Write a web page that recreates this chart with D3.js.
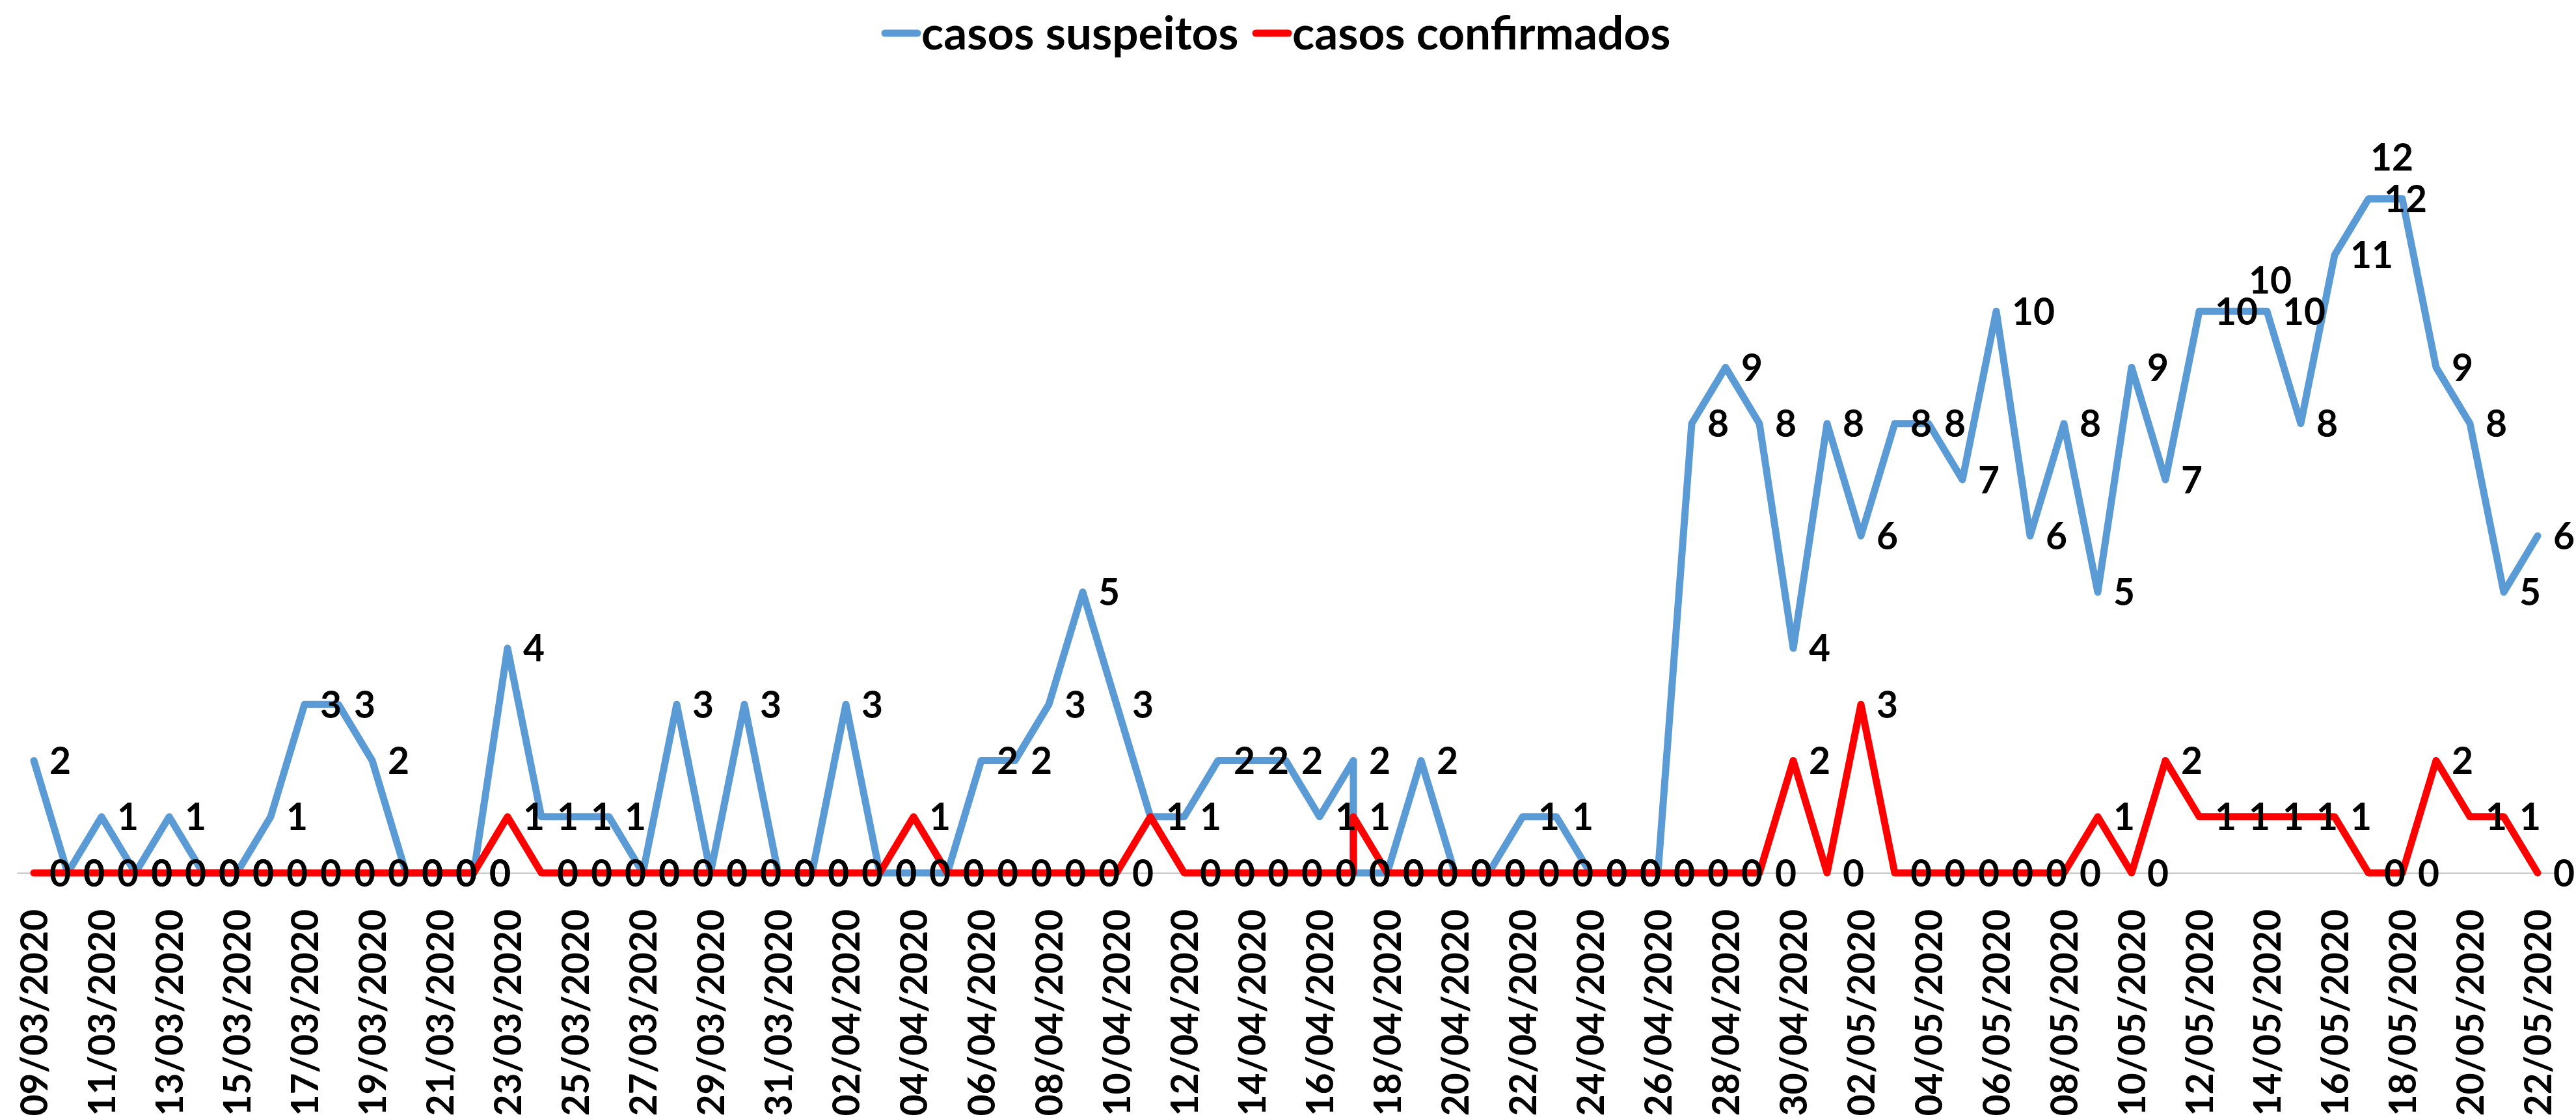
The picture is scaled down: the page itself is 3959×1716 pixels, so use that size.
<!DOCTYPE html>
<html>
<head>
<meta charset="utf-8">
<script src="https://cdn.jsdelivr.net/npm/d3@7"></script>
<style>
  body { margin: 0; background: #fff; }
  svg { display: block; }
  text { font-family: Lato, "Open Sans", sans-serif; font-weight: bold; fill: #000; }
</style>
</head>
<body>
<script>
// one row per reported day (17/04 was reported twice)
const dates = [
  "09/03/2020","10/03/2020","11/03/2020","12/03/2020","13/03/2020","14/03/2020","15/03/2020",
  "16/03/2020","17/03/2020","18/03/2020","19/03/2020","20/03/2020","21/03/2020","22/03/2020",
  "23/03/2020","24/03/2020","25/03/2020","26/03/2020","27/03/2020","28/03/2020","29/03/2020",
  "30/03/2020","31/03/2020","01/04/2020","02/04/2020","03/04/2020","04/04/2020","05/04/2020",
  "06/04/2020","07/04/2020","08/04/2020","09/04/2020","10/04/2020","11/04/2020","12/04/2020",
  "13/04/2020","14/04/2020","15/04/2020","16/04/2020","17/04/2020","17/04/2020","18/04/2020",
  "19/04/2020","20/04/2020","21/04/2020","22/04/2020","23/04/2020","24/04/2020","25/04/2020",
  "26/04/2020","27/04/2020","28/04/2020","29/04/2020","30/04/2020","01/05/2020","02/05/2020",
  "03/05/2020","04/05/2020","05/05/2020","06/05/2020","07/05/2020","08/05/2020","09/05/2020",
  "10/05/2020","11/05/2020","12/05/2020","13/05/2020","14/05/2020","15/05/2020","16/05/2020",
  "17/05/2020","18/05/2020","19/05/2020","20/05/2020","21/05/2020","22/05/2020"
];

const suspeitos = [
  2,0,1,0,1,0,0,
  1,3,3,2,0,0,0,
  4,1,1,1,0,3,0,
  3,0,0,3,0,0,0,
  2,2,3,5,3,1,1,
  2,2,2,1,2,0,0,
  2,0,0,1,1,0,0,
  0,8,9,8,4,8,6,
  8,8,7,10,6,8,5,
  9,7,10,10,10,8,11,
  12,12,9,8,5,6
];

const confirmados = [
  0,0,0,0,0,0,0,
  0,0,0,0,0,0,0,
  1,0,0,0,0,0,0,
  0,0,0,0,0,1,0,
  0,0,0,0,0,1,0,
  0,0,0,0,0,1,0,
  0,0,0,0,0,0,0,
  0,0,0,0,2,0,3,
  0,0,0,0,0,0,1,
  0,2,1,1,1,1,1,
  0,0,2,1,1,0
];

const seriesNames = ["casos suspeitos", "casos confirmados"];
const seriesColors = ["#5B9BD5", "#FF0000"];

const w = 3959;
const h = 1716;
const parse = d3.timeParse("%d/%m/%Y");
const fmt = d3.timeFormat("%d/%m/%Y");
const halfDay = 12 * 3600 * 1000;

const svg = d3.select("body")
  .append("svg")
  .attr("width", w)
  .attr("height", h);

const parsed = dates.map(parse);
const x = d3.scaleTime()
  .domain([new Date(+parsed[0] - halfDay), new Date(+parsed[parsed.length - 1] + halfDay)])
  .range([26, 3926]);

const y = d3.scaleLinear()
  .domain([0, 14])
  .range([1341, 133]);

// every second day gets a label
const uniqueDays = Array.from(new Set(dates));
const tickDays = uniqueDays.filter((d, i) => i % 2 === 0).map(parse);

const axis = svg.append("g")
  .attr("transform", `translate(0,${y(0)})`)
  .call(d3.axisBottom(x).tickValues(tickDays).tickFormat(fmt).tickSize(0).tickSizeOuter(0));

axis.select(".domain").attr("stroke", "#BFBFBF").attr("stroke-width", 2);
axis.selectAll(".tick text")
  .attr("transform", "rotate(-90)")
  .attr("x", -56)
  .attr("y", 0)
  .attr("dy", "0.36em")
  .style("text-anchor", "end")
  .style("font-size", "57px")
  .style("font-family", "Lato, sans-serif")
  .style("font-weight", "bold")
  .attr("fill", "#000");

const series = [suspeitos, confirmados];

const line = d3.line()
  .x((d, i) => x(parsed[i]))
  .y(d => y(d));

series.forEach((vals, s) => {
  svg.append("path")
    .datum(vals)
    .attr("d", line)
    .attr("fill", "none")
    .attr("stroke", seriesColors[s])
    .attr("stroke-width", 11)
    .attr("stroke-linejoin", "round")
    .attr("stroke-linecap", "round");
});

// a couple of labels were moved by hand in the original
const nudge = { "0|13/05/2020": [0, -48], "0|18/05/2020": [-73, -64] };

series.forEach((vals, s) => {
  svg.append("g")
    .selectAll("text")
    .data(vals)
    .join("text")
    .text(d => d)
    .attr("x", (d, i) => x(parsed[i]) + 24 + ((nudge[s + "|" + dates[i]] || [0, 0])[0]))
    .attr("y", (d, i) => y(d) + ((nudge[s + "|" + dates[i]] || [0, 0])[1]))
    .attr("dy", "0.36em")
    .style("font-size", "57px");
});

// legend
const legendX = [1360, 1930];
const legend = svg.append("g");
seriesNames.forEach((name, s) => {
  legend.append("line")
    .attr("x1", legendX[s]).attr("x2", legendX[s] + 50)
    .attr("y1", 51).attr("y2", 51)
    .attr("stroke", seriesColors[s])
    .attr("stroke-width", 11)
    .attr("stroke-linecap", "round");
  legend.append("text")
    .attr("x", legendX[s] + 56)
    .attr("y", 76)
    .style("font-size", "71px")
    .text(name);
});
</script>
</body>
</html>
